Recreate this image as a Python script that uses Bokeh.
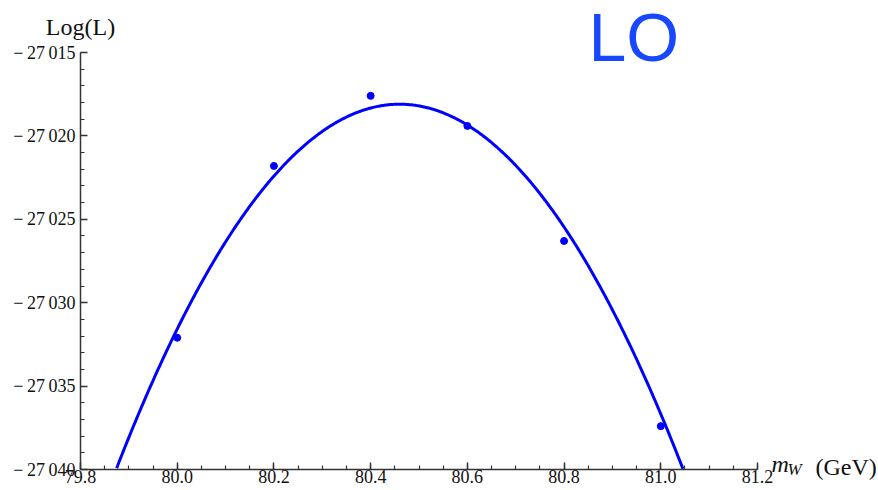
import numpy as np
from bokeh.plotting import figure
from bokeh.models import FixedTicker, Label, Range1d
from bokeh.embed import file_html
from bokeh.resources import INLINE

# data points (m_W in GeV, Log(L))
mw = [80.0, 80.2, 80.4, 80.6, 80.8, 81.0]
logL = [-27032.1, -27021.8, -27017.6, -27019.4, -27026.3, -27037.4]

# fitted parabola as drawn in the chart: peak position, peak value, curvature
fit_peak_x = 80.46
fit_peak_y = -27018.1
fit_curvature = -63.7

x_ticks = [79.8, 80.0, 80.2, 80.4, 80.6, 80.8, 81.0, 81.2]
x_labels = ["79.8", "80.0", "80.2", "80.4", "80.6", "80.8", "81.0", "81.2"]
y_ticks = [-27040, -27035, -27030, -27025, -27020, -27015]
y_labels = ["\u2212\u200927\u2009040", "\u2212\u200927\u2009035", "\u2212\u200927\u2009030",
            "\u2212\u200927\u2009025", "\u2212\u200927\u2009020", "\u2212\u200927\u2009015"]

X0, X1 = 79.8, 81.2
Y0, Y1 = -27040, -27015

BLUE = "#0000ff"
SERIF = "Liberation Serif"
AX = "#333333"

# plot area (axes box) spans px 80..757 horizontally and 52..469 vertically
dx = (X1 - X0) / 677.0
dy = (Y1 - Y0) / 417.0

p = figure(width=878, height=490, output_backend="svg", toolbar_location=None,
           x_range=Range1d(X0 - 80 * dx, X1 + 121 * dx),
           y_range=Range1d(Y0 - 21 * dy, Y1 + 52 * dy),
           min_border_left=0, min_border_right=0, min_border_top=0,
           min_border_bottom=0, background_fill_color="white",
           border_fill_color="white")
p.outline_line_color = None
p.grid.visible = False

xs = np.linspace(X0, X1, 600)
ys = fit_peak_y + fit_curvature * (xs - fit_peak_x) ** 2
keep = ys >= Y0
p.line(xs[keep], ys[keep], line_color=BLUE, line_width=3)
p.scatter(mw, logL, size=7, color=BLUE)

xa = p.xaxis[0]
xa.ticker = FixedTicker(ticks=x_ticks,
                        minor_ticks=[round(X0 + 0.05 * i, 2) for i in range(29)])
xa.major_label_overrides = {t: l for t, l in zip(x_ticks, x_labels)}
xa.fixed_location = Y0
xa.bounds = (X0, X1)
ya = p.yaxis[0]
ya.ticker = FixedTicker(ticks=y_ticks, minor_ticks=list(range(Y0, Y1 + 1)))
ya.major_label_overrides = {t: l for t, l in zip(y_ticks, y_labels)}
ya.fixed_location = X0
ya.bounds = (Y0, Y1)

for ax in (xa, ya):
    ax.axis_line_color = AX
    ax.axis_line_width = 1.5
    ax.major_tick_line_color = AX
    ax.minor_tick_line_color = AX
    ax.major_tick_line_width = 1.5
    ax.minor_tick_line_width = 1.2
    ax.major_tick_in = 7
    ax.major_tick_out = 0
    ax.minor_tick_in = 4
    ax.minor_tick_out = 0
    ax.major_label_text_font = SERIF
    ax.major_label_text_font_size = "18px"
    ax.major_label_text_color = "#111111"
    ax.major_label_standoff = 5
xa.major_label_standoff = 0

p.add_layout(Label(x=X0, y=Y1 + 26 * dy, text="Log(L)", text_align="center",
                   text_baseline="alphabetic", text_font=SERIF,
                   text_font_size="24px", text_color="#111111"))
p.add_layout(Label(x=X0 + 508 * dx, y=Y1 + 15.5 * dy, text="LO",
                   text_align="left", text_baseline="alphabetic",
                   text_font="Liberation Sans", text_font_size="68px",
                   text_color="#1748ff"))
p.add_layout(Label(x=X0 + 691 * dx, y=Y0 + 6 * dy, text="m",
                   text_align="left", text_baseline="alphabetic", text_font=SERIF,
                   text_font_style="italic", text_font_size="24px",
                   text_color="#111111"))
p.add_layout(Label(x=X0 + 707 * dx, y=Y0 + 0.5 * dy, text="W",
                   text_align="left", text_baseline="alphabetic", text_font=SERIF,
                   text_font_style="italic", text_font_size="17px",
                   text_color="#111111"))
p.add_layout(Label(x=X0 + 735 * dx, y=Y0 + 3 * dy, text="(GeV)",
                   text_align="left", text_baseline="alphabetic", text_font=SERIF,
                   text_font_size="24px", text_color="#111111"))

open("out.html", "w").write(file_html(p, INLINE))
